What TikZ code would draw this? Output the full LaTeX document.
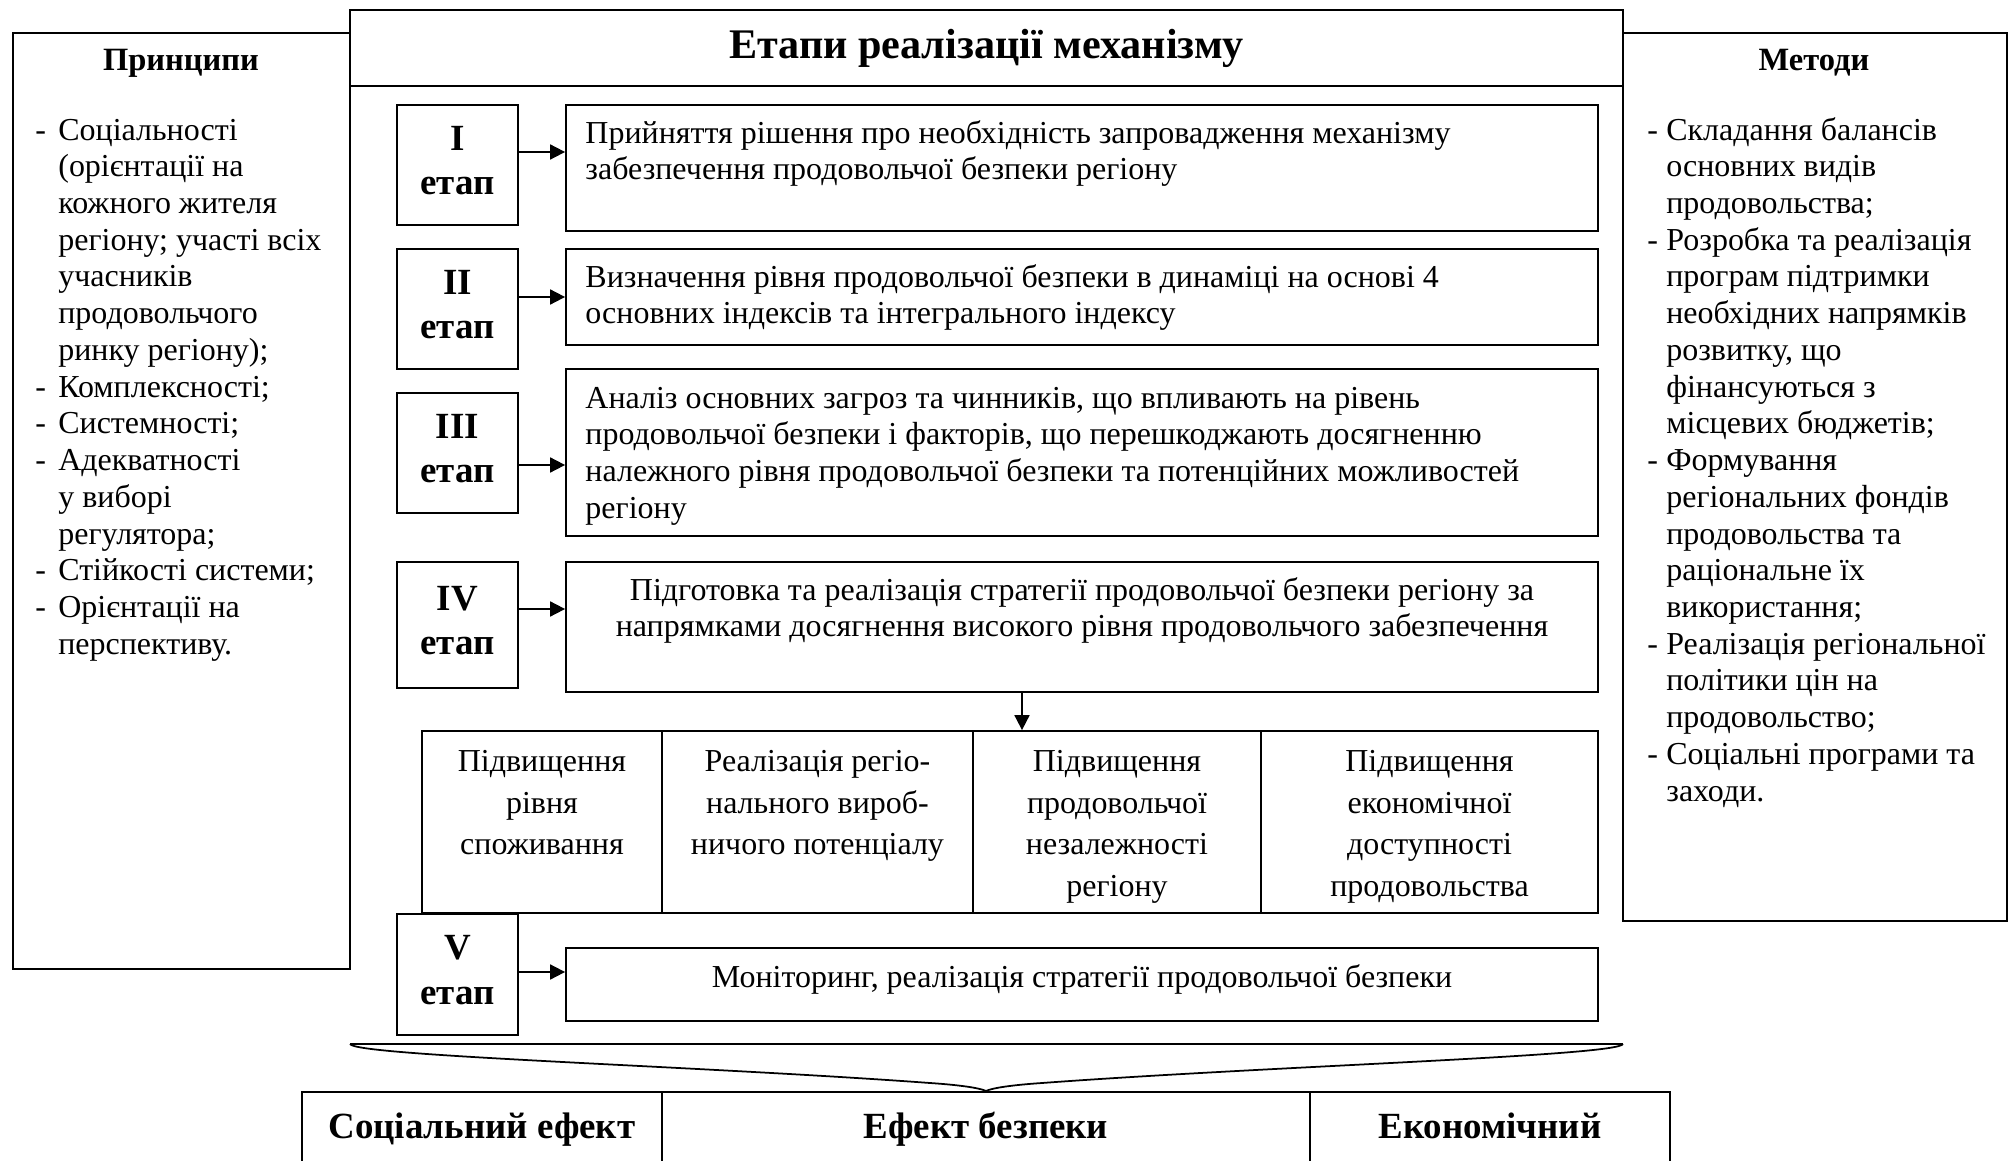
\documentclass[tikz,border=0pt]{standalone}
\usepackage{fontspec}
\setmainfont{Liberation Serif}
\usetikzlibrary{arrows.meta}

\newcommand\bodyfont{\fontsize{18.2}{20.9}\selectfont}
\newcommand\rowfont{\fontsize{18.2}{23.8}\selectfont}
\newcommand\stagefont{\fontsize{21}{25.5}\selectfont\bfseries}
\newcommand\headfont{\fontsize{18.5}{22}\selectfont\bfseries}
\newcommand\efffont{\fontsize{21}{25}\selectfont\bfseries}
\newcommand\titlefont{\fontsize{24}{28}\selectfont\bfseries}
\newcommand\txtlines[2]{\begin{tabular}[t]{@{}#1@{}}#2\end{tabular}}

\tikzset{
  box/.style={draw, line width=1pt, inner sep=0pt},
  stagebox/.style={box, minimum width=24.2mm, font=\stagefont, align=center, text depth=1.8mm},
  infobox/.style={box, minimum width=206.4mm},
  rowbox/.style={box, minimum height=36.4mm},
  effbox/.style={box, minimum height=14.8mm, font=\efffont, text height=5.2mm, text depth=1.4mm},
  txt/.style={inner sep=0pt, font=\bodyfont},
  rowtxt/.style={inner sep=0pt, font=\rowfont, anchor=north},
  arrow/.style={-{Triangle[length=3mm,width=3mm]}, line width=1pt},
}

\begin{document}
\begin{tikzpicture}[x=0.2mm, y=-0.2mm]
  \useasboundingbox (0,0) rectangle (2016,1161);

  % Title and side panels
  \node[box, minimum width=254.6mm, minimum height=15.2mm, font=\titlefont] (title) at (986.5,48) {Етапи реалізації механізму};
  \node[box, minimum width=67.4mm, minimum height=187.2mm] (princ) at (181.5,501) {};
  \node[box, minimum width=76.8mm, minimum height=177.6mm] (meth) at (1815,477) {};
  \node[font=\headfont] (princhead) at (181,63) {Принципи};
  \node[font=\headfont] (methhead) at (1814,63) {Методи};

  \node[txt, anchor=north west] (princlist) at (35,114) {\txtlines{p{4.6mm}@{}l}{
    - & Соціальності\\
      & (орієнтації на\\
      & кожного жителя\\
      & регіону; участі всіх\\
      & учасників\\
      & продовольчого\\
      & ринку регіону);\\
    - & Комплексності;\\
    - & Системності;\\
    - & Адекватності\\
      & у виборі\\
      & регулятора;\\
    - & Стійкості системи;\\
    - & Орієнтації на\\
      & перспективу.}};

  \node[txt, anchor=north west] (methlist) at (1647,114) {\txtlines{p{3.8mm}@{}l}{
    - & Складання балансів\\
      & основних видів\\
      & продовольства;\\
    - & Розробка та реалізація\\
      & програм підтримки\\
      & необхідних напрямків\\
      & розвитку, що\\
      & фінансуються з\\
      & місцевих бюджетів;\\
    - & Формування\\
      & регіональних фондів\\
      & продовольства та\\
      & раціональне їх\\
      & використання;\\
    - & Реалізація регіональної\\
      & політики цін на\\
      & продовольство;\\
    - & Соціальні програми та\\
      & заходи.}};

  % Stages
  \node[stagebox, minimum height=24mm] (s1) at (457.5,165) {I\\етап};
  \node[stagebox, minimum height=24mm] (s2) at (457.5,309) {II\\етап};
  \node[stagebox, minimum height=24mm] (s3) at (457.5,453) {III\\етап};
  \node[stagebox, minimum height=25.2mm] (s4) at (457.5,625) {IV\\етап};
  \node[stagebox, minimum height=24.2mm] (s5) at (457.5,974.5) {V\\етап};

  % Stage contents
  \node[infobox, minimum height=25.2mm] (c1) at (1082,168) {};
  \node[infobox, minimum height=19.2mm] (c2) at (1082,297) {};
  \node[infobox, minimum height=33.4mm] (c3) at (1082,452.5) {};
  \node[infobox, minimum height=26mm] (c4) at (1082,627) {};
  \node[infobox, minimum height=14.6mm] (c5) at (1082,984.5) {};

  \node[txt, anchor=north west] (t1) at ([shift={(20,13)}]c1.north west) {\txtlines{l}{
    Прийняття рішення про необхідність запровадження механізму\\
    забезпечення продовольчої безпеки регіону}};
  \node[txt, anchor=north west] (t2) at ([shift={(20,13)}]c2.north west) {\txtlines{l}{
    Визначення рівня продовольчої безпеки в динаміці на основі 4\\
    основних індексів та інтегрального індексу}};
  \node[txt, anchor=north west] (t3) at ([shift={(20,14)}]c3.north west) {\txtlines{l}{
    Аналіз основних загроз та чинників, що впливають на рівень\\
    продовольчої безпеки і факторів, що перешкоджають досягненню\\
    належного рівня продовольчої безпеки та потенційних можливостей\\
    регіону}};
  \node[txt, anchor=north] (t4) at ([yshift=-2.6mm]c4.north) {\txtlines{c}{
    Підготовка та реалізація стратегії продовольчої безпеки регіону за\\
    напрямками досягнення високого рівня продовольчого забезпечення}};
  \node[txt] (t5) at ([yshift=1.1mm]c5.center) {Моніторинг, реалізація стратегії продовольчої безпеки};

  % Directions of stage IV
  \node[rowbox, minimum width=48mm] (r1) at (542,822) {};
  \node[rowbox, minimum width=62.2mm] (r2) at (817.5,822) {};
  \node[rowbox, minimum width=57.6mm] (r3) at (1117,822) {};
  \node[rowbox, minimum width=67.4mm] (r4) at (1429.5,822) {};
  \node[rowtxt] (rt1) at ([yshift=-2.3mm]r1.north) {\txtlines{c}{Підвищення\\рівня\\споживання}};
  \node[rowtxt] (rt2) at ([yshift=-2.3mm]r2.north) {\txtlines{c}{Реалізація регіо-\\нального вироб-\\ничого потенціалу}};
  \node[rowtxt] (rt3) at ([yshift=-2.3mm]r3.north) {\txtlines{c}{Підвищення\\продовольчої\\незалежності\\регіону}};
  \node[rowtxt] (rt4) at ([yshift=-2.3mm]r4.north) {\txtlines{c}{Підвищення\\економічної\\доступності\\продовольства}};

  % Arrows
  \draw[arrow] ([yshift=2.6mm]s1.east) coordinate (a1) -- (a1 -| c1.west);
  \draw[arrow] ([yshift=2.4mm]s2.east) coordinate (a2) -- (a2 -| c2.west);
  \draw[arrow] ([yshift=-2.4mm]s3.east) coordinate (a3) -- (a3 -| c3.west);
  \draw[arrow] ([yshift=3.2mm]s4.east) coordinate (a4) -- (a4 -| c4.west);
  \draw[arrow] ([yshift=0.5mm]s5.east) coordinate (a5) -- (a5 -| c5.west);
  \draw[arrow] ([xshift=-12mm]c4.south) coordinate (a6) -- (a6 |- r3.north);

  % Brace
  \draw[line width=1pt] (350,1044) -- (1623,1044);
  \draw[line width=1pt] (350,1044) .. controls (355,1056) and (700,1066) .. (930,1083)
    .. controls (960,1085) and (980,1088) .. (986,1091)
    .. controls (992,1088) and (1012,1085) .. (1042,1083)
    .. controls (1272,1066) and (1618,1056) .. (1623,1044);

  % Effects
  \node[effbox, minimum width=72mm] (e1) at (482,1129) {Соціальний ефект};
  \node[effbox, minimum width=129.6mm] (e2) at (986,1129) {Ефект безпеки};
  \node[effbox, minimum width=72mm] (e3) at (1490,1129) {Економічний};
\end{tikzpicture}
\end{document}
